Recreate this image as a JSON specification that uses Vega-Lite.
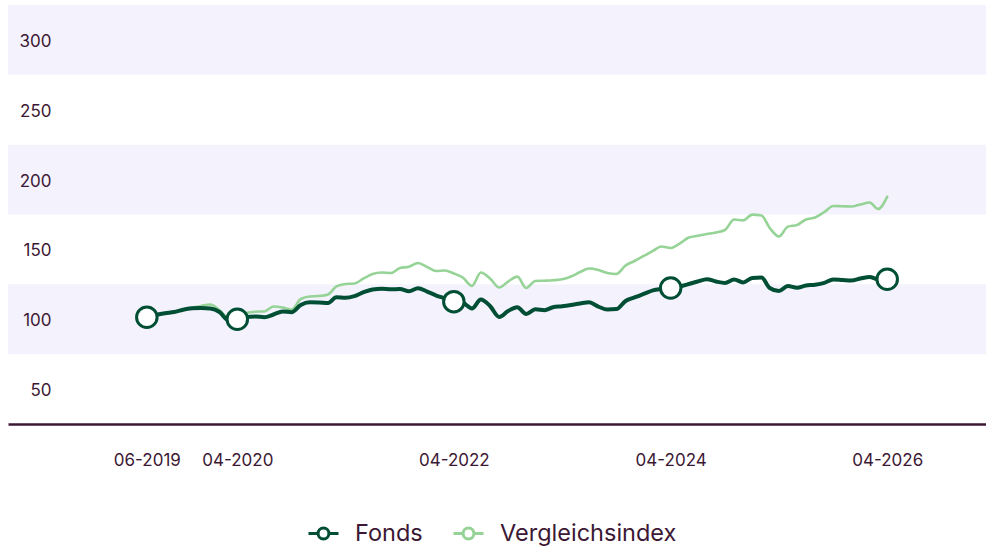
{
  "$schema": "https://vega.github.io/schema/vega-lite/v6.json",
  "width": 978,
  "height": 419,
  "autosize": "none",
  "padding": {"left": 8, "top": 5, "right": 0, "bottom": 122},
  "background": "white",
  "config": {
    "font": "Inter",
    "view": {"stroke": null},
    "axis": {"title": null, "grid": false, "ticks": false, "labelColor": "#3c1834", "labelFontSize": 17, "labelFont": "Inter", "zindex": 1, "labelOverlap": false},
    "legend": {
      "orient": "none",
      "legendX": 299,
      "legendY": 512,
      "direction": "horizontal",
      "labelFontSize": 23.5,
      "labelColor": "#3c1834",
      "labelFont": "Inter",
      "labelLimit": 400,
      "symbolType": "M-1,0L-0.36,0M0.36,0L1,0M-0.36,0A0.36,0.36,0,1,1,0.36,0A0.36,0.36,0,1,1,-0.36,0Z",
      "symbolSize": 900,
      "symbolStrokeWidth": 3,
      "symbolFillColor": "white",
      "labelOffset": 15,
      "columnPadding": 24
    }
  },
  "datasets": {
    "bands": [
      {"lo": 75, "hi": 125},
      {"lo": 175, "hi": 225},
      {"lo": 275, "hi": 325}
    ],
    "series": [
      {"d": "2019-06-01", "Fonds": 101.4, "Vergleichsindex": 101.4},
      {"d": "2019-07-01", "Fonds": 103.0, "Vergleichsindex": 103.0},
      {"d": "2019-08-01", "Fonds": 104.3, "Vergleichsindex": 104.3},
      {"d": "2019-09-01", "Fonds": 105.2, "Vergleichsindex": 105.2},
      {"d": "2019-10-01", "Fonds": 106.8, "Vergleichsindex": 106.8},
      {"d": "2019-11-01", "Fonds": 107.8, "Vergleichsindex": 108.4},
      {"d": "2019-12-01", "Fonds": 108.1, "Vergleichsindex": 109.5},
      {"d": "2020-01-01", "Fonds": 107.7, "Vergleichsindex": 110.6},
      {"d": "2020-02-01", "Fonds": 105.2, "Vergleichsindex": 106.6},
      {"d": "2020-03-01", "Fonds": 99.5, "Vergleichsindex": 100.9},
      {"d": "2020-04-01", "Fonds": 100.0, "Vergleichsindex": 100.0},
      {"d": "2020-05-01", "Fonds": 101.6, "Vergleichsindex": 104.5},
      {"d": "2020-06-01", "Fonds": 102.0, "Vergleichsindex": 105.4},
      {"d": "2020-07-01", "Fonds": 101.5, "Vergleichsindex": 105.6},
      {"d": "2020-08-01", "Fonds": 103.4, "Vergleichsindex": 109.1},
      {"d": "2020-09-01", "Fonds": 105.6, "Vergleichsindex": 108.4},
      {"d": "2020-10-01", "Fonds": 105.0, "Vergleichsindex": 107.0},
      {"d": "2020-11-01", "Fonds": 110.2, "Vergleichsindex": 114.5},
      {"d": "2020-12-01", "Fonds": 112.1, "Vergleichsindex": 116.3},
      {"d": "2021-01-01", "Fonds": 112.0, "Vergleichsindex": 116.6},
      {"d": "2021-02-01", "Fonds": 111.6, "Vergleichsindex": 117.7},
      {"d": "2021-03-01", "Fonds": 115.7, "Vergleichsindex": 123.5},
      {"d": "2021-04-01", "Fonds": 115.4, "Vergleichsindex": 125.2},
      {"d": "2021-05-01", "Fonds": 116.6, "Vergleichsindex": 125.6},
      {"d": "2021-06-01", "Fonds": 119.4, "Vergleichsindex": 129.2},
      {"d": "2021-07-01", "Fonds": 121.3, "Vergleichsindex": 132.4},
      {"d": "2021-08-01", "Fonds": 121.9, "Vergleichsindex": 133.5},
      {"d": "2021-09-01", "Fonds": 121.4, "Vergleichsindex": 133.1},
      {"d": "2021-10-01", "Fonds": 121.7, "Vergleichsindex": 136.7},
      {"d": "2021-11-01", "Fonds": 120.0, "Vergleichsindex": 137.6},
      {"d": "2021-12-01", "Fonds": 122.2, "Vergleichsindex": 140.3},
      {"d": "2022-01-01", "Fonds": 119.8, "Vergleichsindex": 137.4},
      {"d": "2022-02-01", "Fonds": 117.0, "Vergleichsindex": 134.5},
      {"d": "2022-03-01", "Fonds": 115.0, "Vergleichsindex": 134.9},
      {"d": "2022-04-01", "Fonds": 112.6, "Vergleichsindex": 132.8},
      {"d": "2022-05-01", "Fonds": 111.8, "Vergleichsindex": 129.9},
      {"d": "2022-06-01", "Fonds": 107.7, "Vergleichsindex": 123.8},
      {"d": "2022-07-01", "Fonds": 114.1, "Vergleichsindex": 133.5},
      {"d": "2022-08-01", "Fonds": 109.5, "Vergleichsindex": 129.2},
      {"d": "2022-09-01", "Fonds": 101.6, "Vergleichsindex": 122.7},
      {"d": "2022-10-01", "Fonds": 105.9, "Vergleichsindex": 127.0},
      {"d": "2022-11-01", "Fonds": 108.6, "Vergleichsindex": 130.5},
      {"d": "2022-12-01", "Fonds": 103.8, "Vergleichsindex": 122.4},
      {"d": "2023-01-01", "Fonds": 107.1, "Vergleichsindex": 127.4},
      {"d": "2023-02-01", "Fonds": 106.5, "Vergleichsindex": 127.6},
      {"d": "2023-03-01", "Fonds": 108.6, "Vergleichsindex": 127.9},
      {"d": "2023-04-01", "Fonds": 109.3, "Vergleichsindex": 128.6},
      {"d": "2023-05-01", "Fonds": 110.2, "Vergleichsindex": 130.6},
      {"d": "2023-06-01", "Fonds": 111.3, "Vergleichsindex": 133.8},
      {"d": "2023-07-01", "Fonds": 112.1, "Vergleichsindex": 136.3},
      {"d": "2023-08-01", "Fonds": 109.1, "Vergleichsindex": 135.3},
      {"d": "2023-09-01", "Fonds": 107.0, "Vergleichsindex": 133.1},
      {"d": "2023-10-01", "Fonds": 107.3, "Vergleichsindex": 132.4},
      {"d": "2023-11-01", "Fonds": 113.1, "Vergleichsindex": 138.5},
      {"d": "2023-12-01", "Fonds": 115.6, "Vergleichsindex": 141.7},
      {"d": "2024-01-01", "Fonds": 118.1, "Vergleichsindex": 145.3},
      {"d": "2024-02-01", "Fonds": 120.7, "Vergleichsindex": 148.9},
      {"d": "2024-03-01", "Fonds": 121.7, "Vergleichsindex": 152.1},
      {"d": "2024-04-01", "Fonds": 122.4, "Vergleichsindex": 151.0},
      {"d": "2024-05-01", "Fonds": 123.5, "Vergleichsindex": 154.2},
      {"d": "2024-06-01", "Fonds": 125.2, "Vergleichsindex": 158.5},
      {"d": "2024-07-01", "Fonds": 127.0, "Vergleichsindex": 159.8},
      {"d": "2024-08-01", "Fonds": 128.7, "Vergleichsindex": 161.0},
      {"d": "2024-09-01", "Fonds": 127.0, "Vergleichsindex": 162.1},
      {"d": "2024-10-01", "Fonds": 126.0, "Vergleichsindex": 163.9},
      {"d": "2024-11-01", "Fonds": 128.5, "Vergleichsindex": 171.4},
      {"d": "2024-12-01", "Fonds": 126.4, "Vergleichsindex": 170.8},
      {"d": "2025-01-01", "Fonds": 129.5, "Vergleichsindex": 174.9},
      {"d": "2025-02-01", "Fonds": 129.9, "Vergleichsindex": 174.3},
      {"d": "2025-03-01", "Fonds": 122.4, "Vergleichsindex": 165.3},
      {"d": "2025-04-01", "Fonds": 120.2, "Vergleichsindex": 159.3},
      {"d": "2025-05-01", "Fonds": 123.8, "Vergleichsindex": 166.3},
      {"d": "2025-06-01", "Fonds": 122.6, "Vergleichsindex": 167.5},
      {"d": "2025-07-01", "Fonds": 124.2, "Vergleichsindex": 171.4},
      {"d": "2025-08-01", "Fonds": 124.7, "Vergleichsindex": 172.9},
      {"d": "2025-09-01", "Fonds": 126.0, "Vergleichsindex": 176.8},
      {"d": "2025-10-01", "Fonds": 128.5, "Vergleichsindex": 181.1},
      {"d": "2025-11-01", "Fonds": 128.1, "Vergleichsindex": 180.9},
      {"d": "2025-12-01", "Fonds": 127.7, "Vergleichsindex": 180.7},
      {"d": "2026-01-01", "Fonds": 129.2, "Vergleichsindex": 182.2},
      {"d": "2026-02-01", "Fonds": 130.3, "Vergleichsindex": 183.6},
      {"d": "2026-03-01", "Fonds": 128.5, "Vergleichsindex": 178.9},
      {"d": "2026-04-01", "Fonds": 128.6, "Vergleichsindex": 187.7}
    ],
    "markers": [
      {"d": "2019-06-01", "value": 101.4},
      {"d": "2020-04-01", "value": 100.0},
      {"d": "2022-04-01", "value": 112.6},
      {"d": "2024-04-01", "value": 122.4},
      {"d": "2026-04-01", "value": 128.6}
    ]
  },
  "layer": [
    {
      "data": {"name": "bands"},
      "mark": {"type": "rect", "color": "#f4f2fd"},
      "encoding": {
        "y": {"field": "lo", "type": "quantitative",
          "scale": {"domain": [25, 325], "nice": false, "zero": false},
          "axis": {"values": [50, 100, 150, 200, 250, 300], "domain": false, "labelAlign": "right", "labelPadding": -43, "labelOffset": 1.5, "title": null, "zindex": 1, "labelOverlap": false}},
        "y2": {"field": "hi"}
      }
    },
    {
      "data": {"name": "series"},
      "transform": [
        {"fold": ["Fonds", "Vergleichsindex"], "as": ["series", "value"]},
        {"filter": "datum.series === 'Vergleichsindex'"}
      ],
      "mark": {"type": "line", "strokeWidth": 2.6, "interpolate": "monotone", "strokeCap": "round"},
      "encoding": {
        "x": {"field": "d", "type": "temporal",
          "scale": {"type": "utc", "domain": [{"year": 2018, "month": 2, "date": 18, "utc": true}, {"year": 2027, "month": 2, "date": 28, "utc": true}]},
          "axis": {"values": [{"year": 2019, "month": 6, "date": 1, "utc": true}, {"year": 2020, "month": 4, "date": 1, "utc": true}, {"year": 2022, "month": 4, "date": 1, "utc": true}, {"year": 2024, "month": 4, "date": 1, "utc": true}, {"year": 2026, "month": 4, "date": 1, "utc": true}],
            "format": "%m-%Y", "domainColor": "#3c1834", "domainWidth": 2.5, "labelPadding": 28, "title": null, "zindex": 1}},
        "y": {"field": "value", "type": "quantitative"},
        "color": {"field": "series", "type": "nominal",
          "scale": {"domain": ["Fonds", "Vergleichsindex"], "range": ["#004f35", "#96d397"]},
          "legend": {"title": null}}
      }
    },
    {
      "data": {"name": "series"},
      "transform": [
        {"fold": ["Fonds", "Vergleichsindex"], "as": ["series", "value"]},
        {"filter": "datum.series === 'Fonds'"}
      ],
      "mark": {"type": "line", "strokeWidth": 4, "interpolate": "monotone", "strokeCap": "round"},
      "encoding": {
        "x": {"field": "d", "type": "temporal"},
        "y": {"field": "value", "type": "quantitative"},
        "color": {"field": "series", "type": "nominal", "legend": {"title": null}}
      }
    },
    {
      "data": {"name": "markers"},
      "mark": {"type": "point", "filled": true, "fill": "white", "stroke": "#004f35", "strokeWidth": 3, "size": 420, "opacity": 1},
      "encoding": {
        "x": {"field": "d", "type": "temporal"},
        "y": {"field": "value", "type": "quantitative"}
      }
    }
  ]
}
